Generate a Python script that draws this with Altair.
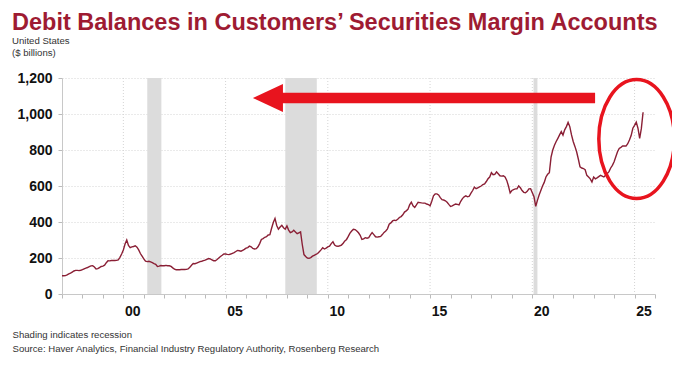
import altair as alt
import pandas as pd

# ---- monthly debit balances ($ billions), Jan of each year first ----
v1997 = [101, 101, 102, 106, 112, 116, 122, 128, 131, 131, 130, 132]
v1998 = [135, 140, 144, 147, 152, 156, 157, 150, 139, 141, 147, 153]
v1999 = [155, 160, 174, 185, 184, 186, 187, 186, 187, 190, 204, 222]
v2000 = [245, 278, 300, 270, 258, 262, 264, 268, 260, 245, 225, 210]
v2001 = [195, 182, 180, 182, 178, 174, 169, 165, 153, 155, 158, 157]
v2002 = [157, 159, 157, 157, 153, 145, 138, 135, 135, 135, 136, 136]
v2003 = [136, 137, 139, 148, 160, 169, 168, 172, 176, 180, 182, 185]
v2004 = [188, 193, 197, 195, 190, 185, 185, 192, 200, 208, 215, 223]
v2005 = [222, 220, 219, 222, 226, 230, 236, 242, 240, 238, 243, 248]
v2006 = [255, 258, 266, 262, 253, 250, 252, 262, 280, 303, 308, 315]
v2007 = [318, 328, 330, 365, 397, 420, 381, 360, 372, 382, 368, 360]
v2008 = [378, 355, 341, 345, 354, 345, 335, 340, 345, 275, 219, 208]
v2009 = [200, 198, 202, 210, 215, 220, 225, 235, 245, 257, 250, 255]
v2010 = [262, 266, 280, 290, 272, 266, 265, 268, 272, 282, 295, 303]
v2011 = [320, 338, 350, 360, 358, 350, 340, 326, 303, 306, 313, 310]
v2012 = [313, 328, 341, 330, 318, 316, 318, 320, 330, 342, 350, 362]
v2013 = [388, 395, 406, 410, 408, 415, 425, 430, 440, 455, 462, 470]
v2014 = [495, 510, 490, 481, 495, 510, 508, 506, 505, 505, 500, 497]
v2015 = [490, 515, 545, 556, 556, 550, 535, 524, 522, 518, 510, 498]
v2016 = [487, 490, 495, 500, 498, 495, 515, 530, 540, 545, 540, 543]
v2017 = [560, 575, 594, 585, 590, 595, 600, 608, 612, 625, 640, 650]
v2018 = [674, 663, 665, 678, 668, 657, 655, 657, 650, 631, 600, 562]
v2019 = [575, 580, 584, 584, 600, 590, 575, 565, 562, 570, 584, 585]
v2020 = [562, 540, 487, 520, 550, 575, 600, 620, 650, 665, 674, 760]
v2021 = [800, 826, 847, 865, 884, 902, 883, 912, 930, 953, 930, 884]
v2022 = [847, 820, 790, 750, 706, 700, 697, 690, 659, 650, 640, 622]
v2023 = [650, 640, 645, 652, 659, 655, 650, 660, 669, 680, 700, 715]
v2024 = [735, 762, 790, 809, 815, 822, 822, 822, 835, 856, 880, 921]
v2025 = [937, 955, 921, 865, 920, 1010]

years = list(range(1997, 2026))
yearly = [v1997, v1998, v1999, v2000, v2001, v2002, v2003, v2004, v2005, v2006,
          v2007, v2008, v2009, v2010, v2011, v2012, v2013, v2014, v2015, v2016,
          v2017, v2018, v2019, v2020, v2021, v2022, v2023, v2024, v2025]

# recessions (fractional years)
rec_start = [2001.17, 2007.92, 2020.06]
rec_end = [2001.86, 2009.46, 2020.25]

# axis ticks
x_ticks = list(range(1997, 2027))
x_grid = [2000, 2005, 2010, 2015, 2020, 2025]
y_ticks = [0, 200, 400, 600, 800, 1000, 1200]

# annotations (data coords)
arrow_x = [2007.5, 2023.07]
arrow_y = 1089
head_x = 2007.07
ellipse_x = 2025.1
ellipse_y = 861

rows = []
for yr, vals in zip(years, yearly):
    for m, v in enumerate(vals):
        rows.append({"t": yr + m / 12.0, "v": v})
df = pd.DataFrame(rows)
rec = pd.DataFrame({"s": rec_start, "e": rec_end})
grid = pd.DataFrame({"g": x_grid})

W, H = 593, 216
LINE = "#8A1F35"
TITLE_RED = "#9E1B32"
RED = "#E8141E"
FONT = "Liberation Sans, Arial, sans-serif"

xscale = alt.Scale(domain=[1997, 2026], nice=False, zero=False)
yscale = alt.Scale(domain=[0, 1200], nice=False)

x_axis = alt.Axis(
    values=x_ticks,
    labelExpr="datum.value % 5 == 0 && datum.value < 2026 ? slice(toString(datum.value), 2) : ''",
    labelOffset=9,
    labelFlush=False,
    labelOverlap=False,
    labelFont=FONT,
    labelFontWeight="bold",
    labelFontSize=14,
    labelColor="#111",
    labelPadding=6,
    grid=False,
    tickSize=4,
    tickColor="#BBBBBB",
    domainColor="#C8C8C8",
    title=["Shading indicates recession",
           "Source: Haver Analytics, Financial Industry Regulatory Authority, Rosenberg Research"],
    titleFont=FONT,
    titleFontWeight="normal",
    titleFontSize=9.6,
    titleColor="#333",
    titleAnchor="start",
    titleAlign="left",
    titleBaseline="top",
    titleX=-50,
    titleY=35,
    titleLineHeight=14.5,
)

y_axis = alt.Axis(
    values=y_ticks,
    format=",.0f",
    labelOverlap=False,
    labelFont=FONT,
    labelFontWeight="bold",
    labelFontSize=14,
    labelColor="#111",
    labelPadding=6,
    tickSize=4,
    tickColor="#BBBBBB",
    domainColor="#C8C8C8",
    grid=True,
    gridColor="#D4D4D4",
    gridDash=[1, 2],
    title=None,
)

X = lambda f: alt.X(f, scale=xscale, axis=x_axis)
Y = lambda f: alt.Y(f, scale=yscale, axis=y_axis)

recession = alt.Chart(rec).mark_rect(color="#DCDCDC").encode(
    x=X("s:Q"),
    x2="e:Q",
)

vgrid = alt.Chart(grid).mark_rule(color="#D4D4D4", strokeDash=[1, 2], strokeWidth=1).encode(
    x=X("g:Q"),
)

line = alt.Chart(df).mark_line(color=LINE, strokeWidth=1.4).encode(
    x=X("t:Q"),
    y=Y("v:Q"),
)

shaft_df = pd.DataFrame({"x1": [arrow_x[0]], "x2": [arrow_x[1]], "y": [arrow_y]})
shaft = alt.Chart(shaft_df).mark_rule(color=RED, strokeWidth=10.5, strokeCap="butt").encode(
    x=X("x1:Q"), x2="x2:Q", y=Y("y:Q")
)

head_df = pd.DataFrame({"x": [head_x], "y": [arrow_y]})
head = alt.Chart(head_df).mark_point(
    shape="M -1 0 L 1 -0.93 L 1 0.93 Z", size=900, filled=True, color=RED, opacity=1
).encode(x=X("x:Q"), y=Y("y:Q"))

ell_df = pd.DataFrame({"x": [ellipse_x], "y": [ellipse_y]})
ellipse = alt.Chart(ell_df).mark_point(
    shape=("M 0 -1 C 0.35 -1 0.635 -0.552 0.635 0 C 0.635 0.552 0.35 1 0 1 "
           "C -0.35 1 -0.635 0.552 -0.635 0 C -0.635 -0.552 -0.35 -1 0 -1 Z"),
    size=14161, filled=False, color=RED, strokeWidth=3.5, opacity=1,
).encode(x=X("x:Q"), y=Y("y:Q"))

chart = alt.layer(recession, vgrid, line, shaft, head, ellipse).properties(
    width=W,
    height=H,
    autosize=alt.AutoSizeParams(type="none"),
    padding={"left": 54, "top": 70, "right": 17, "bottom": 65},
    title=alt.TitleParams(
        text="Debit Balances in Customers’ Securities Margin Accounts",
        subtitle=["United States", "($ billions)"],
        anchor="start",
        frame="group",
        dx=-50,
        offset=13,
        font=FONT,
        fontSize=23.5,
        fontWeight="bold",
        color=TITLE_RED,
        subtitleFont=FONT,
        subtitleFontSize=9.6,
        subtitleColor="#333",
        subtitlePadding=2,
        subtitleLineHeight=12,
    ),
).configure_view(stroke=None)

chart.save("out.html", embed_options={"renderer": "svg", "actions": False})
